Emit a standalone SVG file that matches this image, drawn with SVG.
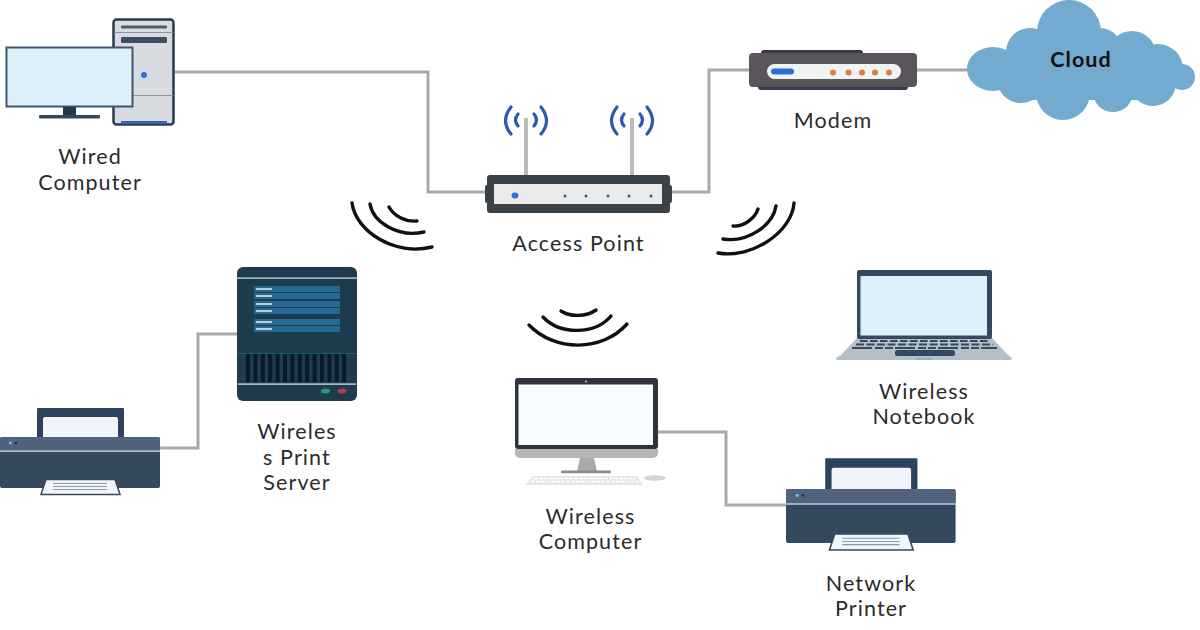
<svg xmlns="http://www.w3.org/2000/svg" width="1200" height="630" viewBox="0 0 1200 630">
<style>
.lbl{font-family:Lato,"Liberation Sans",sans-serif;font-size:21.5px;fill:#2b2b2b;text-anchor:middle;letter-spacing:1.1px}
.wire{fill:none;stroke:#a9a9a9;stroke-width:3}
.wave{fill:none;stroke:#111;stroke-width:3.4;stroke-linecap:round}
.sig{fill:none;stroke:#2b5cab;stroke-width:3.2;stroke-linecap:round}
</style>
<defs>
<g id="printer">
<rect x="37" y="-29" width="87" height="31" rx="1" fill="#2b435f"/>
<rect x="43" y="-20" width="75" height="23" rx="2" fill="#f1f5f9"/>
<rect x="0" y="0" width="160" height="51" rx="2" fill="#34495e"/>
<path d="M0 14V2a2 2 0 0 1 2-2H158a2 2 0 0 1 2 2V14Z" fill="#52627e"/>
<rect x="0" y="13.500" width="160" height="1.300" fill="#cfd6dd"/>
<circle cx="10.500" cy="6" r="1.500" fill="#6fc5e4"/><circle cx="16" cy="6" r="1.200" fill="#1d2b3a"/>
<path d="M46 42.500H115L120 57.500H41Z" fill="#f1f5f9" stroke="#34495e" stroke-width="1.500"/>
<path d="M53 46.500H107M53 49.500H107M53 52.500H107" stroke="#8d99a6" stroke-width="1"/>
</g>
<g id="antenna">
<rect x="-2" y="0" width="4" height="57" fill="#b9bcbc"/>
<path class="sig" d="M-15-11Q-26 3-15 16M-8-4Q-13 2-8 8M15-11Q26 3 15 16M8-4Q13 2 8 8"/>
</g>
</defs>

<g id="connectors">
<path class="wire" d="M174 72H428V192H487"/>
<path class="wire" d="M670 192H709V70H749"/>
<path class="wire" d="M917 70H968"/>
<path class="wire" d="M160 448H198V334H238"/>
<path class="wire" d="M657 432H726V505H786"/>
</g>

<g id="wired-computer">
<rect x="113.500" y="19.500" width="60" height="105" rx="3" fill="#d8dce0" stroke="#263c4f" stroke-width="2.500"/>
<path d="M114 32.500H173M114 95.500H173" stroke="#8b96a0" stroke-width="1"/>
<rect x="121" y="25.500" width="46" height="3" rx="1" fill="#4a5d70"/>
<rect x="121" y="37" width="46" height="6" rx="1.500" fill="#3c4f62"/>
<rect x="121" y="121" width="46" height="2" fill="#2d65c4"/>
<circle cx="144" cy="75" r="3" fill="#2d6fdc"/>
<rect x="6.500" y="47.500" width="126" height="59" fill="#ddf0fa" stroke="#3d566e" stroke-width="2"/>
<rect x="63" y="107" width="13" height="9" fill="#233a4d"/>
<rect x="39" y="115" width="61" height="3.500" rx="1" fill="#34495e"/>
<text class="lbl" x="90" y="164">Wired</text>
<text class="lbl" x="90" y="190">Computer</text>
</g>

<g id="access-point">
<use href="#antenna" x="526" y="118"/>
<use href="#antenna" x="632" y="118"/>
<rect x="485" y="185" width="187" height="18" rx="2" fill="#3a4247"/>
<rect x="487" y="175" width="183" height="38" rx="3" fill="#3a4247"/>
<rect x="494" y="184" width="168" height="20" fill="#ebebeb"/>
<ellipse cx="515" cy="195.500" rx="3.500" ry="3" fill="#2d6fdc"/>
<g fill="#2b5cab"><circle cx="565" cy="196" r="1.500"/><circle cx="586" cy="196" r="1.500"/><circle cx="608" cy="196" r="1.500"/><circle cx="629" cy="196" r="1.500"/><circle cx="651" cy="196" r="1.500"/></g>
<text class="lbl" x="578.500" y="251">Access Point</text>
</g>

<g id="modem">
<rect x="761" y="50" width="102" height="10" rx="3" fill="#3a3a4c"/>
<rect x="758" y="80" width="150" height="10" rx="3" fill="#3a3a4c"/>
<rect x="749" y="53" width="168" height="34" rx="4" fill="#5a555c"/>
<rect x="767" y="64" width="134" height="15" rx="7.500" fill="#f1f3f2"/>
<rect x="771" y="68.500" width="23" height="6" rx="3" fill="#2d6fd0"/>
<g fill="#e07b45"><circle cx="833" cy="72.500" r="3"/><circle cx="848.500" cy="72.500" r="3"/><circle cx="862" cy="72.500" r="3"/><circle cx="875" cy="72.500" r="3"/><circle cx="889" cy="72.500" r="3"/></g>
<text class="lbl" x="833" y="128">Modem</text>
</g>

<g id="cloud">
<g fill="#72abcf">
<circle cx="1069" cy="32" r="32"/><ellipse cx="993" cy="69" rx="26" ry="22"/><circle cx="1030" cy="52" r="24"/>
<circle cx="1100" cy="50" r="22"/><circle cx="1132" cy="55" r="24"/><circle cx="1158" cy="69" r="25"/><circle cx="1182" cy="77" r="13"/>
<circle cx="1021" cy="79" r="24"/><circle cx="1063" cy="93" r="27"/><circle cx="1113" cy="92" r="20"/><circle cx="1153" cy="83" r="23"/>
<rect x="1012" y="50" width="135" height="50"/>
</g>
<text x="1081" y="67" font-family="Lato,'Liberation Sans',sans-serif" font-size="21.500" font-weight="700" fill="#111" text-anchor="middle" letter-spacing="1.100">Cloud</text>
</g>

<g id="signal-waves">
<path class="wave" d="M352 203C356 232 395 256 432 247"/>
<path class="wave" d="M370 204C373 222 398 238 424 232"/>
<path class="wave" d="M389 207C394 216 405 222 417 221"/>
<path class="wave" d="M794 203C792 232 752 259 718 253"/>
<path class="wave" d="M776 206C773 225 748 243 723 239"/>
<path class="wave" d="M758 209C755 218 744 227 733 226"/>
<path class="wave" d="M529 325C555 352 602 352 627 324"/>
<path class="wave" d="M543 317C560 335 595 335 611 316"/>
<path class="wave" d="M561 311C570 317 586 317 596 310"/>
</g>

<g id="print-server">
<rect x="237" y="267" width="120" height="134" rx="6" fill="#1f3c4e"/>
<rect x="237" y="277.500" width="120" height="1.200" fill="#dfe6ea"/>
<rect x="237" y="353" width="120" height="1" fill="#1b5872"/>
<g fill="#256a92"><rect x="254" y="286" width="86" height="6"/><rect x="254" y="293" width="86" height="6"/><rect x="254" y="301" width="86" height="6"/><rect x="254" y="308" width="86" height="6"/><rect x="254" y="319" width="86" height="6"/><rect x="254" y="326" width="86" height="6"/></g>
<path d="M256 289H272M256 296H272M256 304H272M256 311H272M256 322H272M256 329H272" stroke="#e5eef3" stroke-width="1.300"/>
<line x1="246" y1="368" x2="346" y2="368" stroke="#07192b" stroke-width="28" stroke-dasharray="4 3.400"/>
<rect x="238" y="383.500" width="118" height="1.200" fill="#e5eef3"/>
<ellipse cx="325.500" cy="391" rx="4.500" ry="2.500" fill="#2a9a72"/>
<ellipse cx="342" cy="391" rx="4.500" ry="2.500" fill="#b03a56"/>
<text class="lbl" x="297" y="439">Wireles</text>
<text class="lbl" x="297" y="465">s Print</text>
<text class="lbl" x="297" y="490">Server</text>
</g>

<g id="local-printer">
<use href="#printer" x="0" y="437"/>
</g>

<g id="wireless-computer">
<path d="M515 449H658V453a5 5 0 0 1-5 5H520a5 5 0 0 1-5-5Z" fill="#b6b6b6"/>
<path d="M580 458H594L597 471H577Z" fill="#a9a9a9"/>
<rect x="561" y="470.500" width="50" height="2.800" rx="1.400" fill="#8b8b8b"/>
<rect x="515" y="378" width="143" height="71" rx="3" fill="#30333f"/>
<rect x="518.500" y="384.500" width="134.500" height="60.500" fill="#f8fcff"/>
<circle cx="586" cy="381.500" r="1" fill="#c4c9d0"/>
<path d="M533 476H637L643 485H525Z" fill="#e4e6e6"/>
<path d="M534 478.500H636M531 481.500H639" stroke="#fff" stroke-width="1.500" stroke-dasharray="4 1"/>
<ellipse cx="655" cy="478" rx="11" ry="2.800" fill="#d4d4d4"/>
<text class="lbl" x="590.500" y="524">Wireless</text>
<text class="lbl" x="590.500" y="549">Computer</text>
</g>

<g id="network-printer">
<use href="#printer" transform="translate(786 489) scale(1.060 1.060)"/>
<text class="lbl" x="871" y="591">Network</text>
<text class="lbl" x="871" y="616">Printer</text>
</g>

<g id="wireless-notebook">
<path d="M841 355L857 338H992L1008 355L1012 358Q1012 360 1009 360H839Q836 360 836 358Z" fill="#b4bfc6"/>
<rect x="857" y="270" width="135" height="69" rx="2" fill="#34495e"/>
<rect x="860.500" y="276" width="126.500" height="59.500" fill="#dcf0fa"/>
<g stroke="#34495e" stroke-width="2" fill="none">
<line x1="860" y1="341" x2="989" y2="341" stroke-dasharray="7.500 2.500"/>
<line x1="856" y1="344.500" x2="993" y2="344.500" stroke-dasharray="8 2.500"/>
<line x1="852" y1="348" x2="997" y2="348" stroke-dasharray="20 3 8 2 8 2"/>
</g>
<rect x="895" y="350" width="60" height="6" rx="2.500" fill="#34495e"/>
<rect x="916" y="358.500" width="16" height="1" fill="#8b98a2"/>
<text class="lbl" x="924" y="399">Wireless</text>
<text class="lbl" x="924" y="424">Notebook</text>
</g>
</svg>
